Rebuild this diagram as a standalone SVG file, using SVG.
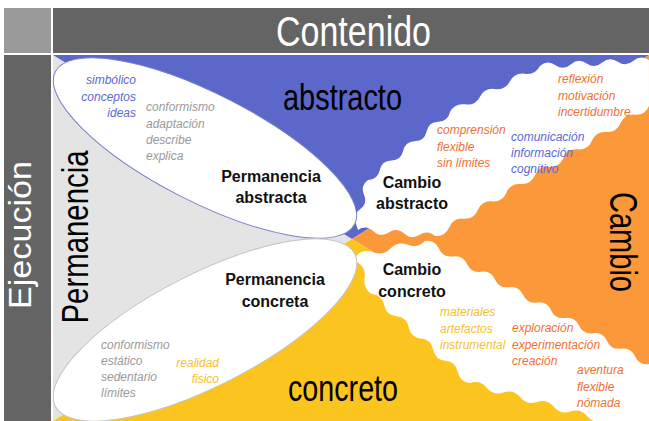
<svg xmlns="http://www.w3.org/2000/svg" width="649" height="421" viewBox="0 0 649 421">
<style>
.it{font-family:"Liberation Sans",Arial,sans-serif;font-style:italic;font-size:12px}
.bl{fill:#5b67d3}.gr{fill:#999999}.or{fill:#f07030}.ye{fill:#f7c02c}
.lb{font-family:"Liberation Sans",Arial,sans-serif;font-weight:bold;font-size:16px;text-anchor:middle;fill:#111}
.big{font-family:"Liberation Sans",Arial,sans-serif;text-anchor:middle}
.band{fill:#ffffff}
</style>
<rect width="649" height="421" fill="#ffffff"/>
<g id="frame">
<rect x="4" y="8" width="47" height="45" fill="#9a9a9a"/>
<rect x="53" y="8" width="596" height="45" fill="#646464"/>
<rect x="4" y="55" width="47" height="366" fill="#646464"/>
</g>
<g id="quadrants">
<polygon points="53,55 352,239 53,421" fill="#e4e4e4"/>
<polygon points="53,55 649,55 352,239" fill="#5b67c9"/>
<polygon points="649,55 649,421 352,239" fill="#fb983a"/>
<polygon points="53,421 352,239 649,421" fill="#fcc41f"/>
</g>
<g id="cambio-abstracto">
<path class="band" d="M356,224 q-3.79,-8.91 4,-14.67 t4,-14.67 t4,-14.67 q9.69,-0.24 11.71,-9.71 t11.71,-9.71 t11.71,-9.71 t11.71,-9.71 t11.71,-9.71 t11.71,-9.71 t11.71,-9.71 q4.77,-9.175 15,-7.67 t15,-7.67 t15,-7.67 t15,-7.67 t15,-7.67 t15,-7.67 q7.455,-6.42 15.57,-0.857 t15.57,-0.857 t15.57,-0.857 t15.57,-0.857 t15.57,-0.857 t15.57,-0.857 t15.57,-0.857 L649,106 q-4.02,9.46 -14.267,8.667 t-14.267,8.667 t-14.267,8.667 t-14.267,8.667 t-14.267,8.667 t-14.267,8.667 t-14.267,8.667 t-14.267,8.667 t-14.267,8.667 t-14.267,8.667 t-14.267,8.667 t-14.267,8.667 t-14.267,8.667 t-14.267,8.667 t-14.267,8.667 q-7.23,-6.58 -15.4,-1.2 t-15.4,-1.2 t-15.4,-1.2 t-15.4,-1.2 t-15.4,-1.2 Z"/>
<text class="lb" x="412" y="188">Cambio</text>
<text class="lb" x="412" y="209">abstracto</text>
<g class="it or"><text x="437" y="134">comprensión</text><text x="437" y="150.5">flexible</text><text x="437" y="167">sin límites</text></g>
<g class="it or"><text x="558" y="83">reflexión</text><text x="558" y="99.5">motivación</text><text x="558" y="116">incertidumbre</text></g>
<g class="it bl"><text x="511" y="140.5">comunicación</text><text x="511" y="157">información</text><text x="511" y="173">cognitivo</text></g>
</g>
<g id="cambio-concreto">
<path class="band" d="M356,256 q7.35,-7.74 17.25,-3.75 t17.25,-3.75 t17.25,-3.75 t17.25,-3.75 q9.89,-1.42 14,7.6875 t14,7.6875 t14,7.6875 t14,7.6875 t14,7.6875 t14,7.6875 t14,7.6875 t14,7.6875 t14,7.6875 t14,7.6875 t14,7.6875 t14,7.6875 t14,7.6875 t14,7.6875 t14,7.6875 t14,7.6875 L649,421 L604,421 q-10.01,3.4 -16.75,-4.75 t-16.75,-4.75 t-16.75,-4.75 t-16.75,-4.75 t-16.75,-4.75 t-16.75,-4.75 t-16.75,-4.75 t-16.75,-4.75 q-10.16,-1.12 -12.25,-11.125 t-12.25,-11.125 t-12.25,-11.125 t-12.25,-11.125 t-12.25,-11.125 t-12.25,-11.125 t-12.25,-11.125 t-12.25,-11.125 q-9.19,-5.45 -7.5,-16 t-7.5,-16 Z"/>
<text class="lb" x="412" y="275">Cambio</text>
<text class="lb" x="412" y="297">concreto</text>
<g class="it ye"><text x="440" y="316">materiales</text><text x="440" y="332.5">artefactos</text><text x="440" y="349">instrumental</text></g>
<g class="it or"><text x="512" y="332">exploración</text><text x="512" y="348.5">experimentación</text><text x="512" y="364.5">creación</text></g>
<g class="it or"><text x="577" y="374">aventura</text><text x="577" y="390.5">flexible</text><text x="577" y="407">nómada</text></g>
</g>
<g id="permanencia-abstracta">
<ellipse cx="205" cy="148" rx="168" ry="54" transform="rotate(27 205 148)" fill="#ffffff" stroke="#7580cc" stroke-width="1"/>
<text class="lb" x="271" y="182">Permanencia</text>
<text class="lb" x="271" y="203">abstracta</text>
<g class="it bl" text-anchor="end"><text x="136" y="84">simbólico</text><text x="136" y="100.5">conceptos</text><text x="136" y="117">ideas</text></g>
<g class="it gr"><text x="146" y="111">conformismo</text><text x="146" y="127.5">adaptación</text><text x="146" y="144">describe</text><text x="146" y="160">explica</text></g>
</g>
<g id="permanencia-concreta">
<ellipse cx="205" cy="330" rx="168" ry="56" transform="rotate(-27 205 330)" fill="#ffffff" stroke="#c4c4c4" stroke-width="1"/>
<text class="lb" x="275" y="285">Permanencia</text>
<text class="lb" x="275" y="307">concreta</text>
<g class="it gr"><text x="101" y="349">conformismo</text><text x="101" y="365">estático</text><text x="101" y="381">sedentario</text><text x="101" y="397">límites</text></g>
<g class="it ye" text-anchor="end"><text x="219" y="366.5">realidad</text><text x="219" y="382.5">fisico</text></g>
</g>
<g id="labels">
<text class="big" x="353.5" y="46" font-size="42" fill="#ffffff" textLength="155" lengthAdjust="spacingAndGlyphs">Contenido</text>
<text class="big" transform="translate(31,235) rotate(-90)" font-size="32" fill="#ffffff" textLength="148" lengthAdjust="spacingAndGlyphs">Ejecución</text>
<text class="big" transform="translate(88,237) rotate(-90)" font-size="37" fill="#000000" textLength="173" lengthAdjust="spacingAndGlyphs">Permanencia</text>
<text class="big" transform="translate(610,242) rotate(90)" font-size="38" fill="#000000" textLength="100" lengthAdjust="spacingAndGlyphs">Cambio</text>
<text class="big" x="342.5" y="110" font-size="37" fill="#000000" textLength="119" lengthAdjust="spacingAndGlyphs">abstracto</text>
<text class="big" x="343" y="401" font-size="37" fill="#000000" textLength="110" lengthAdjust="spacingAndGlyphs">concreto</text>
</g>
</svg>
